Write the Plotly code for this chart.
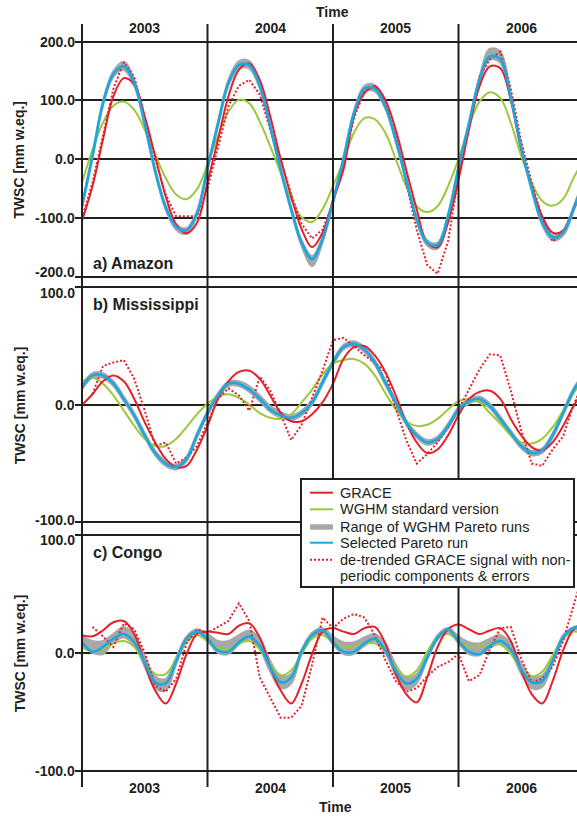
import plotly.graph_objects as go

# ---------------- data (monthly, Jan 2003 .. Jan 2007) ----------------
months = [2003 + i / 12 for i in range(49)]
years = [2003, 2004, 2005, 2006]
year_labels = ["2003", "2004", "2005", "2006"]

amazon_grace = [-105, -46, 33, 107, 138, 127, 73, 5, -63, -111, -126, -108, -40, 33, 107, 152, 163, 135, 73, 0,
                -63, -119, -150, -125, -70, -18, 73, 112, 124, 101, 50, -18, -85, -142, -150, -108, -35, 50, 124,
                158, 155, 101, 16, -46, -97, -125, -122, -85, -40]
amazon_wghm = [-40, 16, 62, 91, 98, 84, 50, 8, -32, -60, -68, -51, -9, 39, 81, 101, 95, 64, 22, -23, -68, -99, -107,
               -85, -46, -3, 45, 70, 68, 45, 0, -46, -80, -90, -80, -46, 0, 56, 98, 114, 104, 62, 5, -40, -71, -79,
               -68, -32, 0]
amazon_pareto = [-80, 5, 95, 145, 158, 130, 60, -20, -82, -115, -121, -92, -15, 60, 130, 160, 160, 125, 56, -18, -85,
                 -142, -170, -136, -72, 0, 78, 120, 120, 90, 33, -35, -102, -142, -146, -97, -15, 60, 135, 175, 170,
                 105, 20, -50, -108, -133, -125, -85, -35]
amazon_range_hi = [-76, 9, 99, 150, 166, 135, 64, -16, -78, -111, -117, -88, -11, 64, 135, 167, 167, 130, 60, -14,
                   -81, -138, -165, -132, -68, 4, 82, 125, 126, 94, 37, -31, -98, -138, -142, -93, -11, 64, 140, 188,
                   183, 112, 24, -46, -104, -129, -121, -81, -31]
amazon_range_lo = [-84, 1, 91, 140, 152, 125, 56, -24, -86, -120, -127, -96, -19, 56, 125, 154, 154, 120, 52, -22,
                   -89, -148, -182, -142, -76, -4, 74, 115, 115, 86, 29, -39, -106, -147, -152, -101, -19, 56, 130,
                   170, 164, 100, 16, -54, -112, -138, -130, -89, -39]
amazon_detrended = [-100, -40, 40, 120, 165, 140, 70, 0, -60, -97, -97, -97, -50, 20, 90, 125, 135, 110, 50, 0, -60,
                    -110, -135, -120, -75, -10, 70, 115, 124, 100, 40, -40, -120, -180, -195, -140, -30, 60, 140, 170,
                    183, 120, 30, -40, -100, -140, -125, -85, -30]

miss_grace = [0, 9, 20, 25, 20, 5, -15, -32, -46, -53, -52, -38, -18, 5, 20, 28, 29, 22, 8, -7, -14, -14, -8, 2, 18,
              39, 49, 50, 42, 28, 8, -15, -32, -41, -38, -26, -9, 5, 11, 12, 5, -12, -26, -36, -39, -32, -18, -1, 13]
miss_wghm = [20, 23, 18, 8, -5, -18, -29, -35, -35, -29, -19, -8, 1, 7, 9, 6, 0, -7, -11, -12, -8, 2, 13, 26, 35, 38,
             39, 35, 25, 10, -4, -14, -18, -17, -12, -4, 3, 5, 2, -7, -16, -26, -32, -33, -29, -19, -5, 10, 22]
miss_pareto = [15, 25, 25, 18, 5, -9, -26, -41, -50, -53, -46, -26, -7, 8, 18, 18, 13, 5, -4, -9, -11, -7, 2, 19, 36,
               49, 52, 47, 36, 19, 2, -15, -26, -32, -29, -18, -4, 3, 5, -1, -12, -24, -35, -41, -39, -26, -7, 12, 25]
miss_range_hi = [17, 27, 27, 20, 7, -7, -24, -39, -48, -51, -44, -24, -5, 10, 20, 20, 16, 8, -1, -6, -9, -5, 4, 21, 38,
                 51, 54, 49, 38, 21, 4, -13, -24, -30, -27, -16, -2, 5, 7, 1, -10, -22, -33, -39, -37, -24, -5, 14, 27]
miss_range_lo = [13, 23, 23, 16, 3, -11, -28, -43, -52, -55, -48, -28, -9, 6, 16, 16, 11, 3, -6, -11, -13, -9, 0, 17,
                 34, 47, 50, 45, 34, 17, 0, -17, -28, -34, -31, -20, -6, 1, 3, -3, -14, -26, -37, -43, -41, -28, -9,
                 10, 23]
miss_detrended = [None, 9, 33, 36, 38, 22, -5, -35, -32, -50, -45, -35, -15, 5, 14, 8, -5, 24, 12, -8, -30, -17, 6, 29,
                  55, 57, 50, 42, 36, 28, -3, -30, -50, -42, -32, -19, -4, 13, 30, 43, 42, 12, -22, -50, -52, -38, -27,
                  0, 20]

congo_grace = [15, 14, 19, 26, 27, 16, -9, -32, -43, -26, -1, 16, 18, 17, 16, 23, 25, 13, -12, -32, -43, -26, -1, 18,
               21, 18, 16, 21, 22, 8, -18, -35, -42, -21, 5, 20, 24, 20, 16, 19, 21, 10, -15, -35, -43, -24, 2, 20, 25]
congo_wghm = [5, 1, 3, 8, 10, 5, -8, -18, -18, -5, 9, 15, 10, 4, 3, 8, 10, 3, -9, -19, -15, -1, 12, 15, 9, 5, 5, 8, 8,
              1, -12, -20, -15, 1, 13, 16, 10, 5, 5, 7, 7, -1, -14, -20, -16, -2, 12, 18, 16]
congo_pareto = [9, 1, 5, 12, 16, 9, -8, -25, -26, -7, 12, 18, 12, 2, 1, 9, 14, 6, -12, -25, -21, 1, 15, 19, 9, 1, 1, 8,
                12, 2, -15, -26, -22, -4, 13, 20, 10, 1, -1, 6, 10, 3, -14, -25, -24, -7, 13, 21, 22]
congo_range_hi = [14, 10, 10, 16, 22, 15, -3, -20, -22, -4, 14, 20, 16, 10, 10, 15, 19, 12, -7, -20, -18, 3, 17, 21,
                  14, 9, 9, 13, 16, 8, -10, -21, -18, -1, 15, 21, 14, 9, 8, 12, 15, 8, -9, -20, -19, -4, 15, 22, 23]
congo_range_lo = [7, 0, -1, 9, 13, 6, -12, -30, -32, -10, 10, 17, 10, 0, -1, 7, 12, 3, -16, -30, -26, -1, 13, 17, 7,
                  -1, -1, 6, 10, 0, -19, -31, -26, -6, 11, 18, 8, -1, -2, 4, 8, 1, -18, -30, -29, -9, 11, 19, 20]
congo_detrended = [None, 22, 14, 5, 25, 20, 0, -28, -33, -22, 8, 20, 17, 22, 27, 42, 27, -21, -38, -55, -55, -45, -10,
                   30, 21, 29, 33, 30, 15, -6, -24, -33, -30, -20, -12, -8, -1, -24, -19, 3, 21, 22, -5, -25, -22, -12,
                   10, 40, 70]

panels = [
    dict(label="a) Amazon", grace=amazon_grace, wghm=amazon_wghm, pareto=amazon_pareto,
         hi=amazon_range_hi, lo=amazon_range_lo, det=amazon_detrended,
         ticks=[-200, -100, 0, 100, 200], ticktext=["-200.0", "-100.0", "0.0", "100.0", "200.0"]),
    dict(label="b) Mississippi", grace=miss_grace, wghm=miss_wghm, pareto=miss_pareto,
         hi=miss_range_hi, lo=miss_range_lo, det=miss_detrended,
         ticks=[-100, 0, 100], ticktext=["-100.0", "0.0", "100.0"]),
    dict(label="c) Congo", grace=congo_grace, wghm=congo_wghm, pareto=congo_pareto,
         hi=congo_range_hi, lo=congo_range_lo, det=congo_detrended,
         ticks=[-100, 0, 100], ticktext=["-100.0", "0.0", "100.0"]),
]

legend_labels = ["GRACE", "WGHM standard version", "Range of WGHM Pareto runs", "Selected Pareto run",
                 "de-trended GRACE signal with non-", "periodic components & errors"]

# ---------------- layout geometry ----------------
W, H = 577, 819
ML = 82
PX_PER_YEAR = 125.5
X0 = 2003.0
X1 = X0 + (W - ML) / PX_PER_YEAR
panel_px = [(41.7, 276.7), (287.3, 522.3), (535.0, 770.7)]
label_shift = [{-200: 5, 200: 0}, {100: -6, -100: 2}, {100: -4.5, -100: 0}]
LINE_TOP, LINE_BOT = 24, 787

RED = "#e4212b"
GREEN = "#9cc83b"
BLUE = "#1ba8e1"
GRAY = "#a7a8aa"
INK = "#231f20"
FONT = "Liberation Sans, Arial, sans-serif"


def py(y_px):
    return 1 - y_px / H


def pxx(x_px):
    return (x_px - ML) / (W - ML)


fig = go.Figure()
layout_axes = {}
annotations = []
shapes = []

for i, p in enumerate(panels):
    n = i + 1
    ya = "y" if n == 1 else f"y{n}"
    yname = "yaxis" if n == 1 else f"yaxis{n}"
    top_px, bot_px = panel_px[i]
    vmax, vmin = max(p["ticks"]), min(p["ticks"])
    pad = 3
    upp = (vmax - vmin) / (bot_px - top_px)
    layout_axes[yname] = dict(
        domain=[py(bot_px + pad), py(top_px - pad)],
        range=[vmin - pad * upp, vmax + pad * upp],
        anchor="x", tickvals=p["ticks"], showticklabels=False,
        showgrid=True, gridcolor=INK, gridwidth=2, zeroline=False,
        ticks="outside", ticklen=6, tickwidth=2, tickcolor=INK,
        showline=False, fixedrange=True,
    )
    fig.add_trace(go.Scatter(x=months, y=p["lo"], yaxis=ya, mode="lines",
                             line=dict(color=GRAY, width=2, shape="spline"), showlegend=False, hoverinfo="skip"))
    fig.add_trace(go.Scatter(x=months, y=p["hi"], yaxis=ya, mode="lines",
                             line=dict(color=GRAY, width=2, shape="spline"), fill="tonexty", fillcolor=GRAY,
                             showlegend=False, hoverinfo="skip"))
    fig.add_trace(go.Scatter(x=months, y=p["wghm"], yaxis=ya, mode="lines", name="WGHM standard version",
                             line=dict(color=GREEN, width=2, shape="spline"), showlegend=False))
    fig.add_trace(go.Scatter(x=months, y=p["det"], yaxis=ya, mode="lines", name="de-trended GRACE",
                             line=dict(color=RED, width=2, dash="2px,2px"), showlegend=False))
    fig.add_trace(go.Scatter(x=months, y=p["grace"], yaxis=ya, mode="lines", name="GRACE",
                             line=dict(color=RED, width=2, shape="spline"), showlegend=False))
    fig.add_trace(go.Scatter(x=months, y=p["pareto"], yaxis=ya, mode="lines", name="Selected Pareto run",
                             line=dict(color=BLUE, width=2.6, shape="spline"), showlegend=False))
    # tick labels
    for tv, tt in zip(p["ticks"], p["ticktext"]):
        annotations.append(dict(text=f"<b>{tt}</b>", xref="paper", yref=ya, x=pxx(76.5), y=tv,
                                xanchor="right", yanchor="middle", yshift=label_shift[i].get(tv, 0),
                                showarrow=False, font=dict(family=FONT, size=14, color=INK)))
    # panel label
    annotations.append(dict(text=f"<b>{p['label']}</b>", xref="paper", yref="paper",
                            x=pxx(91), y=py([263, 304, 552][i]), xanchor="left", yanchor="middle",
                            showarrow=False, font=dict(family=FONT, size=16, color=INK)))
    # y title
    annotations.append(dict(text="<b>TWSC [mm w.eq.]</b>", xref="paper", yref="paper", textangle=-90,
                            x=pxx(19.5), y=py((top_px + bot_px) / 2), xanchor="center", yanchor="middle",
                            showarrow=False, font=dict(family=FONT, size=14, color=INK)))

# year labels and "Time"
for yr, lab in zip(years, year_labels):
    for ypx in (28, 788):
        annotations.append(dict(text=f"<b>{lab}</b>", xref="x", yref="paper", x=yr + 0.5, y=py(ypx),
                                xanchor="center", yanchor="middle", showarrow=False,
                                font=dict(family=FONT, size=14, color=INK)))
for ypx, xpx in ((12.5, 332), (807, 335)):
    annotations.append(dict(text="<b>Time</b>", xref="paper", yref="paper", x=pxx(xpx), y=py(ypx),
                            xanchor="center", yanchor="middle", showarrow=False,
                            font=dict(family=FONT, size=14, color=INK)))

# vertical year boundary lines spanning all panels
for yr in years:
    xp = (yr - X0) / (X1 - X0)
    shapes.append(dict(type="line", xref="paper", yref="paper", x0=xp, x1=xp,
                       y0=py(LINE_BOT), y1=py(LINE_TOP), line=dict(color=INK, width=2), layer="above"))

# ---------------- legend box ----------------
LEG_L, LEG_R, LEG_T, LEG_B = 301, 574, 479, 587
shapes.append(dict(type="rect", xref="paper", yref="paper", x0=pxx(LEG_L), x1=pxx(LEG_R),
                   y0=py(LEG_B), y1=py(LEG_T), fillcolor="white", line=dict(color=INK, width=2), layer="above"))
leg_rows = [492.7, 509.3, 527.0, 542.7, 559.7, 576.0]
leg_styles = [dict(color=RED, width=2), dict(color=GREEN, width=2), dict(color=GRAY, width=5.5),
              dict(color=BLUE, width=2), dict(color=RED, width=2, dash="2px,2px"), None]
for ypx, lab, st in zip(leg_rows, legend_labels, leg_styles):
    if st is not None:
        shapes.append(dict(type="line", xref="paper", yref="paper", x0=pxx(310), x1=pxx(333),
                           y0=py(ypx), y1=py(ypx), line=st, layer="above"))
    annotations.append(dict(text=lab, xref="paper", yref="paper", x=pxx(337.5), y=py(ypx),
                            xanchor="left", yanchor="middle", showarrow=False,
                            font=dict(family=FONT, size=14.5, color=INK)))

fig.update_layout(
    width=W, height=H,
    margin=dict(l=ML, r=0, t=0, b=0),
    paper_bgcolor="white", plot_bgcolor="white",
    xaxis=dict(range=[X0, X1], showgrid=False, zeroline=False, showticklabels=False, ticks="",
               anchor="y3", fixedrange=True),
    **layout_axes,
    shapes=shapes,
    annotations=annotations,
    showlegend=False,
    font=dict(family=FONT, color=INK),
)

fig.write_html("out.html")
